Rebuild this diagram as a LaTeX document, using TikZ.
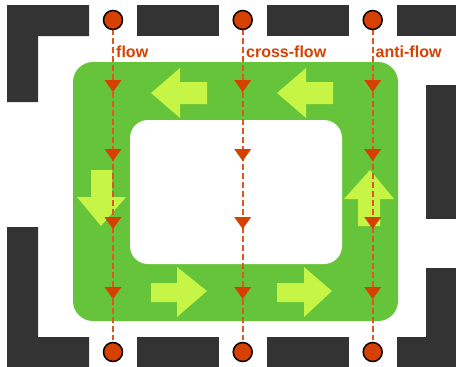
\documentclass[tikz,border=0pt]{standalone}
\usepackage{fontspec}
\setmainfont{Liberation Sans}
\definecolor{bar}{HTML}{333333}
\definecolor{band}{HTML}{66C43A}
\definecolor{lime}{HTML}{C6F545}
\definecolor{flowred}{HTML}{D64000}
\definecolor{dashred}{HTML}{E0561C}
\tikzset{
  wall/.style={fill=bar,draw=none},
  arrowshape/.style={fill=lime,draw=none},
  flowline/.style={draw=dashred,line width=2pt,dash pattern=on 6pt off 3pt},
  dot/.style={circle,fill=flowred,draw=black,line width=1.5pt,minimum size=19pt,inner sep=0pt},
  tri/.style={fill=flowred,draw=none},
  lbl/.style={text=flowred,font=\bfseries\fontsize{16}{18}\selectfont,anchor=base west,inner sep=0pt}
}
\begin{document}
\begin{tikzpicture}[x=1pt,y=-1pt]
\useasboundingbox (0,0) rectangle (456,367);
% walls
\fill[wall] (7,5) -- (89,5) -- (89,36) -- (38,36) -- (38,102) -- (7,102) -- cycle;
\fill[wall] (137,5) rectangle (219,36);
\fill[wall] (267,5) rectangle (349,36);
\fill[wall] (397,5) rectangle (456,36);
\fill[wall] (426,85) rectangle (456,219);
\fill[wall] (426,268) -- (456,268) -- (456,367) -- (397,367) -- (397,337) -- (426,337) -- cycle;
\fill[wall] (267,337) rectangle (349,367);
\fill[wall] (137,337) rectangle (219,367);
\fill[wall] (7,227) -- (38,227) -- (38,337) -- (89,337) -- (89,367) -- (7,367) -- cycle;
% green band
\fill[band,rounded corners=20pt] (73,62) rectangle (398,321);
\fill[white,rounded corners=18pt] (130,120) rectangle (342,264);
% lime arrows
\fill[arrowshape] (151,93) -- (180,68) -- (180,82) -- (207,82) -- (207,104) -- (180,104) -- (180,118) -- cycle;
\fill[arrowshape] (277,93) -- (306,68) -- (306,82) -- (333,82) -- (333,104) -- (306,104) -- (306,118) -- cycle;
\fill[arrowshape] (207,291) -- (177,267) -- (177,283) -- (151,283) -- (151,302) -- (177,302) -- (177,317) -- cycle;
\fill[arrowshape] (332,291) -- (304,267) -- (304,283) -- (277,283) -- (277,302) -- (304,302) -- (304,317) -- cycle;
\fill[arrowshape] (101,226) -- (77,197) -- (91,197) -- (91,170) -- (112,170) -- (112,197) -- (126,197) -- cycle;
\fill[arrowshape] (370,170) -- (394,199) -- (380,199) -- (380,226) -- (358,226) -- (358,199) -- (344,199) -- cycle;
% flow lines
\foreach \n/\x in {1/113,2/242.7,3/372.7}{
  \coordinate (t\n) at (\x,20);
  \coordinate (b\n) at (\x,352);
  \draw[flowline] (t\n) -- ([yshift=12pt]b\n);
  \foreach \y in {92,161,229,299}{
    \fill[tri] (\x-8.5,\y-12) -- (\x+8.5,\y-12) -- (\x,\y) -- cycle;
  }
  \node[dot] (T\n) at (t\n) {};
  \node[dot] (B\n) at (b\n) {};
}
% labels
\node[lbl] (l1) at (116,57) {flow};
\node[lbl] (l2) at (246,57) {cross-flow};
\node[lbl] (l3) at (375.5,57) {anti-flow};
\end{tikzpicture}
\end{document}
